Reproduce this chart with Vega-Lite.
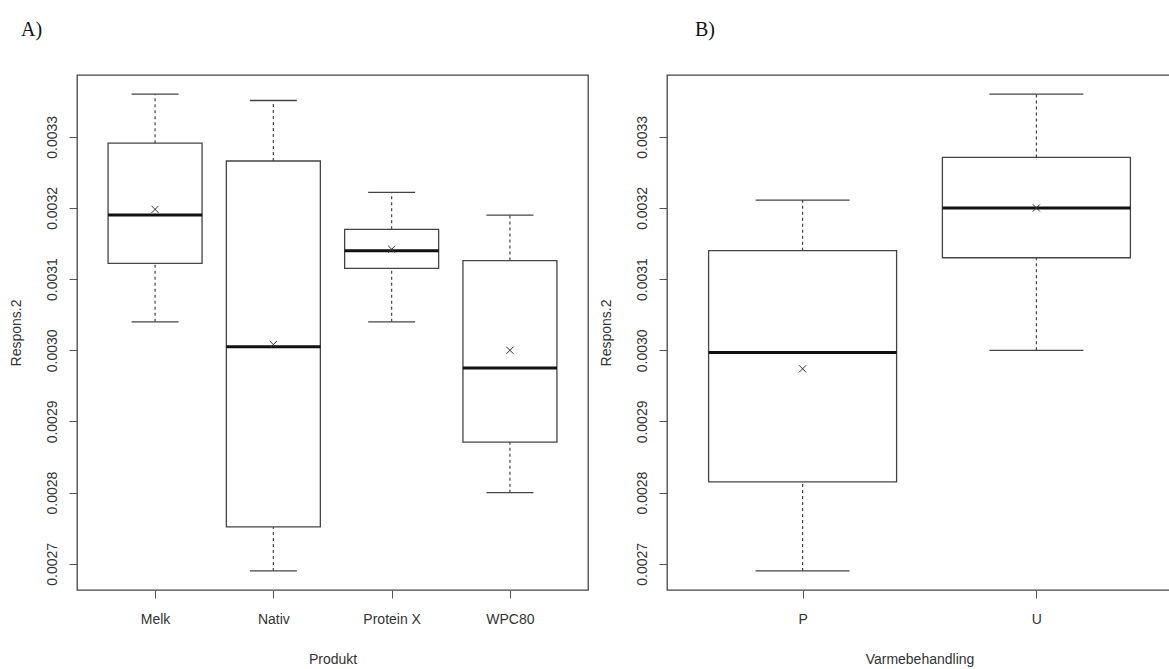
{
  "$schema": "https://vega.github.io/schema/vega-lite/v6.json",
  "background": "white",
  "padding": {"left": 8, "top": 19, "right": 0, "bottom": 0},
  "config": {
    "view": {"stroke": "#444", "strokeWidth": 1.3},
    "axis": {"labelFont": "Liberation Sans", "titleFont": "Liberation Sans", "labelFontSize": 14, "titleFontSize": 14, "labelColor": "#333", "titleColor": "#333", "titleFontWeight": "normal", "tickColor": "#555", "grid": false, "domain": false},
    "title": {"font": "Liberation Serif", "fontSize": 20, "fontWeight": "normal", "color": "#111", "anchor": "start", "baseline": "alphabetic", "frame": "bounds"},
    "tick": {"opacity": 1},
    "concat": {"spacing": 9}
  },
  "datasets": {
    "a": [
      {"Produkt": "Melk", "lo": 0.00304, "q1": 0.003122, "med": 0.00319, "q3": 0.003291, "hi": 0.00336, "mean": 0.003198},
      {"Produkt": "Nativ", "lo": 0.00269, "q1": 0.002752, "med": 0.003005, "q3": 0.003266, "hi": 0.003351, "mean": 0.003008},
      {"Produkt": "Protein X", "lo": 0.00304, "q1": 0.003115, "med": 0.00314, "q3": 0.00317, "hi": 0.003222, "mean": 0.003142},
      {"Produkt": "WPC80", "lo": 0.0028, "q1": 0.002871, "med": 0.002975, "q3": 0.003126, "hi": 0.00319, "mean": 0.0030}
    ],
    "b": [
      {"Varmebehandling": "P", "lo": 0.00269, "q1": 0.002815, "med": 0.002997, "q3": 0.00314, "hi": 0.003211, "mean": 0.002974},
      {"Varmebehandling": "U", "lo": 0.0030, "q1": 0.00313, "med": 0.0032, "q3": 0.003271, "hi": 0.00336, "mean": 0.0032}
    ]
  },
  "hconcat": [
    {
      "width": 511,
      "height": 515,
      "title": {"text": "A)", "dx": 12, "offset": 35},
      "data": {"name": "a"},
      "encoding": {
        "x": {"field": "Produkt", "type": "nominal", "sort": null, "scale": {"type": "point", "padding": 0.66}, "axis": {"labelAngle": 0, "tickSize": 8, "labelPadding": 14, "titlePadding": 26, "title": "Produkt"}}
      },
      "layer": [
        {"mark": {"type": "rule", "strokeDash": [3, 3], "color": "#444", "strokeWidth": 1.2}, "encoding": {"y": {"field": "lo", "type": "quantitative", "scale": {"domain": [0.0026632, 0.0033868], "nice": false, "zero": false}, "axis": {"values": [0.0027, 0.0028, 0.0029, 0.0030, 0.0031, 0.0032, 0.0033], "format": ".4f", "labelAngle": 270, "tickSize": 8, "labelPadding": 10, "titlePadding": 22, "title": "Respons.2"}}, "y2": {"field": "q1"}}},
        {"mark": {"type": "rule", "strokeDash": [3, 3], "color": "#444", "strokeWidth": 1.2}, "encoding": {"y": {"field": "q3", "type": "quantitative"}, "y2": {"field": "hi"}}},
        {"mark": {"type": "tick", "size": 47, "thickness": 1.3, "color": "#444"}, "encoding": {"y": {"field": "lo", "type": "quantitative"}}},
        {"mark": {"type": "tick", "size": 47, "thickness": 1.3, "color": "#444"}, "encoding": {"y": {"field": "hi", "type": "quantitative"}}},
        {"mark": {"type": "bar", "size": 94, "fill": "white", "stroke": "#444", "strokeWidth": 1.3}, "encoding": {"y": {"field": "q1", "type": "quantitative"}, "y2": {"field": "q3"}}},
        {"mark": {"type": "tick", "size": 94, "thickness": 3, "color": "#111"}, "encoding": {"y": {"field": "med", "type": "quantitative"}}},
        {"mark": {"type": "point", "shape": "M-1,-1L1,1M-1,1L1,-1", "size": 50, "filled": false, "stroke": "#333", "strokeWidth": 1, "opacity": 1}, "encoding": {"y": {"field": "mean", "type": "quantitative"}}}
      ]
    },
    {
      "width": 505,
      "height": 515,
      "title": {"text": "B)", "dx": 96, "offset": 35},
      "data": {"name": "b"},
      "encoding": {
        "x": {"field": "Varmebehandling", "type": "nominal", "sort": null, "scale": {"type": "point", "padding": 0.58}, "axis": {"labelAngle": 0, "tickSize": 8, "labelPadding": 14, "titlePadding": 26, "title": "Varmebehandling"}}
      },
      "layer": [
        {"mark": {"type": "rule", "strokeDash": [3, 3], "color": "#444", "strokeWidth": 1.2}, "encoding": {"y": {"field": "lo", "type": "quantitative", "scale": {"domain": [0.0026632, 0.0033868], "nice": false, "zero": false}, "axis": {"values": [0.0027, 0.0028, 0.0029, 0.0030, 0.0031, 0.0032, 0.0033], "format": ".4f", "labelAngle": 270, "tickSize": 8, "labelPadding": 10, "titlePadding": 22, "title": "Respons.2"}}, "y2": {"field": "q1"}}},
        {"mark": {"type": "rule", "strokeDash": [3, 3], "color": "#444", "strokeWidth": 1.2}, "encoding": {"y": {"field": "q3", "type": "quantitative"}, "y2": {"field": "hi"}}},
        {"mark": {"type": "tick", "size": 94, "thickness": 1.3, "color": "#444"}, "encoding": {"y": {"field": "lo", "type": "quantitative"}}},
        {"mark": {"type": "tick", "size": 94, "thickness": 1.3, "color": "#444"}, "encoding": {"y": {"field": "hi", "type": "quantitative"}}},
        {"mark": {"type": "bar", "size": 188, "fill": "white", "stroke": "#444", "strokeWidth": 1.3}, "encoding": {"y": {"field": "q1", "type": "quantitative"}, "y2": {"field": "q3"}}},
        {"mark": {"type": "tick", "size": 188, "thickness": 3, "color": "#111"}, "encoding": {"y": {"field": "med", "type": "quantitative"}}},
        {"mark": {"type": "point", "shape": "M-1,-1L1,1M-1,1L1,-1", "size": 50, "filled": false, "stroke": "#333", "strokeWidth": 1, "opacity": 1}, "encoding": {"y": {"field": "mean", "type": "quantitative"}}}
      ]
    }
  ]
}
